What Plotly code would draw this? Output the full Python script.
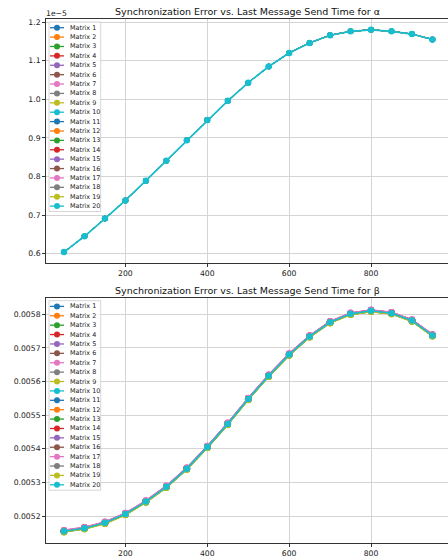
import plotly.graph_objects as go

# ---------------- data ----------------
send_times = [50, 100, 150, 200, 250, 300, 350, 400, 450, 500,
              550, 600, 650, 700, 750, 800, 850, 900, 950]

matrix_names = [f"Matrix {i}" for i in range(1, 21)]

# alpha sync error (identical for all matrices), units of 1e-5
alpha_values_e5 = [0.604, 0.645, 0.691, 0.738, 0.789, 0.841, 0.894, 0.946, 0.996, 1.043,
                   1.085, 1.120, 1.146, 1.166, 1.176, 1.180, 1.176, 1.169, 1.155]
ALPHA_SCALE = 1e-5

# beta sync error (common curve) plus small per-matrix deviation read from the spread
beta_values = [0.005155, 0.005164, 0.005180, 0.005206, 0.005243, 0.005287, 0.005341,
               0.005405, 0.005474, 0.005548, 0.005617, 0.005680, 0.005734, 0.005776,
               0.005801, 0.005810, 0.005803, 0.005781, 0.005737]
beta_offset = [0.0, 0.0, -2e-6, 2e-6, 1e-6, 0.0, 3e-6, 0.0, -2e-6, 0.0,
               0.0, -1e-6, -2e-6, 2e-6, 1e-6, 0.0, 3e-6, -1e-6, -3e-6, 0.0]

colors = ["#1f77b4", "#ff7f0e", "#2ca02c", "#d62728", "#9467bd",
          "#8c564b", "#e377c2", "#7f7f7f", "#bcbd22", "#17becf"]

alpha_ticks = [0.6, 0.7, 0.8, 0.9, 1.0, 1.1, 1.2]
beta_ticks = [0.0052, 0.0053, 0.0054, 0.0055, 0.0056, 0.0057, 0.0058]
x_ticks = [200, 400, 600, 800]

titles = ["Synchronization Error vs. Last Message Send Time for α",
          "Synchronization Error vs. Last Message Send Time for β"]

# ---------------- figure ----------------
W, H = 448, 557
ML, MR, MT, MB = 46, 0, 19, 14
plot_h = H - MT - MB
top_dom = [(H - MB - 263.3) / plot_h, 1.0]
bot_dom = [0.0, (H - MB - 297.7) / plot_h]

FONT = "DejaVu Sans"
fig = go.Figure()

n = len(matrix_names)
for i, name in enumerate(matrix_names):
    c = colors[i % 10]
    # hidden (fully overlapped) series drawn slightly thinner so the top one stays clean
    lw = 1.7 if i == n - 1 else 1.0
    fig.add_trace(go.Scatter(
        x=send_times, y=[v * ALPHA_SCALE for v in alpha_values_e5],
        mode="lines+markers", name=name, showlegend=False,
        line=dict(color=c, width=lw), marker=dict(color=c, size=6.5 if i == n - 1 else 5.5),
        xaxis="x", yaxis="y"))
for i, name in enumerate(matrix_names):
    c = colors[i % 10]
    lw = 1.6 if i == n - 1 else 1.3
    fig.add_trace(go.Scatter(
        x=send_times, y=[v + beta_offset[i] for v in beta_values],
        mode="lines+markers", name=name, showlegend=False,
        line=dict(color=c, width=lw), marker=dict(color=c, size=6.5),
        xaxis="x2", yaxis="y2"))

axis_common = dict(showline=True, linecolor="#333333", linewidth=0.8,
                   ticks="outside", ticklen=3, tickwidth=0.8, tickcolor="#333333",
                   showgrid=True, gridcolor="#d4d4d4", gridwidth=0.8,
                   zeroline=False, automargin=False,
                   tickfont=dict(family=FONT, size=7.7, color="#222222"))

xr = [6, 988]
fig.update_layout(
    width=W, height=H, margin=dict(l=ML, r=MR, t=MT, b=MB),
    paper_bgcolor="white", plot_bgcolor="white", showlegend=False,
    font=dict(family=FONT),
    xaxis=dict(axis_common, range=xr, tickvals=x_ticks, anchor="y", mirror=True, domain=[0, 1]),
    yaxis=dict(axis_common, range=[0.575 * ALPHA_SCALE, 1.208 * ALPHA_SCALE],
               tickvals=[t * ALPHA_SCALE for t in alpha_ticks],
               ticktext=[f"{t:.1f}" for t in alpha_ticks], anchor="x", domain=top_dom),
    xaxis2=dict(axis_common, range=xr, tickvals=x_ticks, anchor="y2", mirror=True, domain=[0, 1]),
    yaxis2=dict(axis_common, range=[0.00512, 0.005849],
                tickvals=beta_ticks, ticktext=[f"{t:.4f}" for t in beta_ticks],
                anchor="x2", domain=bot_dom),
)

shapes = []
annotations = []

# titles
for dom, title, cy in [(top_dom, titles[0], 11.5), (bot_dom, titles[1], 290.7)]:
    annotations.append(dict(text=title, xref="paper", yref="paper",
                            x=(247 - ML) / (W - ML - MR), y=(H - MB - cy) / plot_h,
                            xanchor="center", yanchor="middle", showarrow=False,
                            font=dict(family=FONT, size=9.5, color="#111111")))

# offset text for alpha axis
annotations.append(dict(text="1e−5", xref="paper", yref="paper", x=0, y=top_dom[1],
                        xanchor="left", yanchor="bottom", showarrow=False, xshift=-2, yshift=-1,
                        font=dict(family=FONT, size=7.7, color="#222222")))

# manual legends (upper-left inside each axes)
for dom in [top_dom, bot_dom]:
    ya = dom[1]
    shapes.append(dict(type="rect", xref="paper", yref="paper",
                       xsizemode="pixel", ysizemode="pixel", xanchor=0, yanchor=ya,
                       x0=3, x1=54.7, y0=-3, y1=-192.5,
                       line=dict(color="#cccccc", width=0.8),
                       fillcolor="rgba(255,255,255,0.8)", layer="above"))
    for i, name in enumerate(matrix_names):
        c = colors[i % 10]
        cy = -(8.7 + i * 9.39)
        shapes.append(dict(type="line", xref="paper", yref="paper",
                           xsizemode="pixel", ysizemode="pixel", xanchor=0, yanchor=ya,
                           x0=4, x1=18, y0=cy, y1=cy,
                           line=dict(color=c, width=1.3), layer="above"))
        shapes.append(dict(type="circle", xref="paper", yref="paper",
                           xsizemode="pixel", ysizemode="pixel", xanchor=0, yanchor=ya,
                           x0=8, x1=14, y0=cy - 3, y1=cy + 3,
                           line=dict(width=0), fillcolor=c, layer="above"))
        annotations.append(dict(text=name, xref="paper", yref="paper", x=0, y=ya,
                                xanchor="left", yanchor="middle", showarrow=False,
                                xshift=22, yshift=cy,
                                font=dict(family=FONT, size=6.4, color="#222222")))

fig.update_layout(shapes=shapes, annotations=annotations)
fig.write_html("out.html")
